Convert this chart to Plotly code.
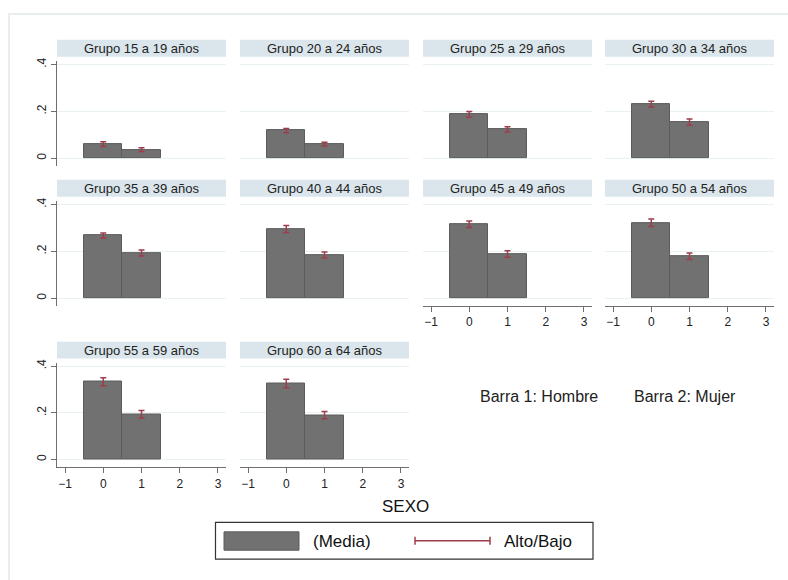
import plotly.graph_objects as go

# Grupos de edad (un panel por grupo)
grupos = ["Grupo 15 a 19 años", "Grupo 20 a 24 años", "Grupo 25 a 29 años", "Grupo 30 a 34 años",
          "Grupo 35 a 39 años", "Grupo 40 a 44 años", "Grupo 45 a 49 años", "Grupo 50 a 54 años",
          "Grupo 55 a 59 años", "Grupo 60 a 64 años"]

# SEXO: 0 = Hombre, 1 = Mujer
sexo = [0, 1]

# Media por grupo y sexo
media_hombre = [0.060, 0.118, 0.187, 0.231, 0.268, 0.296, 0.316, 0.323, 0.333, 0.325]
media_mujer = [0.036, 0.060, 0.123, 0.154, 0.193, 0.185, 0.189, 0.179, 0.194, 0.190]

# Límites Alto/Bajo
alto_hombre = [0.070, 0.127, 0.199, 0.243, 0.279, 0.311, 0.330, 0.339, 0.350, 0.343]
bajo_hombre = [0.050, 0.109, 0.175, 0.219, 0.257, 0.281, 0.302, 0.307, 0.316, 0.307]
alto_mujer = [0.044, 0.068, 0.134, 0.167, 0.206, 0.198, 0.203, 0.193, 0.210, 0.206]
bajo_mujer = [0.028, 0.052, 0.112, 0.141, 0.180, 0.172, 0.175, 0.165, 0.178, 0.174]

y_ticks = [0, 0.2, 0.4]
y_tick_labels = ["0", ".2", ".4"]
x_ticks = [-1, 0, 1, 2, 3]

W, H = 788, 580
FONT = "Liberation Sans, Arial, sans-serif"
BAR = "#717171"
BAR_LINE = "#5c5c5c"
ERR = "#9e3d4c"
GRID = "#e9f1f2"
AXIS = "#6e6e6e"
STRIP = "#dae6eb"


def fx(px):
    return px / W


def fy(py):
    return 1 - py / H


col_px = [(57, 226), (240, 409), (423, 592), (605, 774)]
row_px = [(57.5, 163), (198.5, 304), (361, 466.5)]
strip_px = [(36, 53), (177, 194), (340, 357)]
# panel que lleva el eje x en cada columna
x_axis_panel = {0: 8, 1: 9, 2: 6, 3: 7}

fig = go.Figure()
layout = dict(
    width=W, height=H,
    margin=dict(l=0, r=0, t=0, b=0),
    paper_bgcolor="white", plot_bgcolor="white",
    showlegend=False,
    font=dict(family=FONT, color="#222"),
)
shapes = []
annotations = []

for i, g in enumerate(grupos):
    r, c = divmod(i, 4)
    n = i + 1
    xa = "x" if n == 1 else f"x{n}"
    ya = "y" if n == 1 else f"y{n}"
    ykey = "yaxis" if n == 1 else f"yaxis{n}"
    xkey = "xaxis" if n == 1 else f"xaxis{n}"

    medias = [media_hombre[i], media_mujer[i]]
    altos = [alto_hombre[i], alto_mujer[i]]
    bajos = [bajo_hombre[i], bajo_mujer[i]]

    fig.add_trace(go.Bar(
        x=sexo, y=medias, width=[1, 1],
        marker=dict(color=BAR, line=dict(color=BAR_LINE, width=1)),
        error_y=dict(type="data", symmetric=False,
                     array=[a - m for a, m in zip(altos, medias)],
                     arrayminus=[m - b for m, b in zip(medias, bajos)],
                     color=ERR, thickness=1.5, width=3),
        xaxis=xa, yaxis=ya, hoverinfo="skip",
    ))

    x0, x1 = col_px[c]
    ytop, ybot = row_px[r]
    show_x = x_axis_panel[c] == i
    show_y = c == 0

    layout[xkey] = dict(
        domain=[fx(x0), fx(x1)], anchor=ya, range=[-1.21, 3.21],
        showgrid=False, zeroline=False,
        showline=show_x, linecolor=AXIS, linewidth=1,
        ticks="outside" if show_x else "", ticklen=5, tickcolor=AXIS,
        tickvals=x_ticks, showticklabels=show_x,
        tickfont=dict(size=12, color="#222"), fixedrange=True,
    )
    layout[ykey] = dict(
        domain=[fy(ybot), fy(ytop)], anchor=xa, range=[-0.033, 0.415],
        showgrid=True, gridcolor=GRID, gridwidth=1, zeroline=False,
        showline=show_y, linecolor=AXIS, linewidth=1,
        ticks="outside" if show_y else "", ticklen=5, tickcolor=AXIS,
        tickvals=y_ticks, ticktext=y_tick_labels, showticklabels=show_y,
        tickangle=-90, tickfont=dict(size=12, color="#222"), fixedrange=True,
    )

    s0, s1 = strip_px[r]
    shapes.append(dict(type="rect", xref="paper", yref="paper",
                       x0=fx(x0), x1=fx(x1), y0=fy(s1), y1=fy(s0),
                       fillcolor=STRIP, line=dict(width=0), layer="below"))
    annotations.append(dict(text=g, xref="paper", yref="paper",
                            x=fx((x0 + x1) / 2), y=fy((s0 + s1) / 2),
                            xanchor="center", yanchor="middle", showarrow=False,
                            font=dict(size=13, color="#222")))

# marco exterior tenue
shapes.append(dict(type="rect", xref="paper", yref="paper",
                   x0=fx(9), x1=1.2, y0=-0.2, y1=fy(10),
                   line=dict(color="#e8eeee", width=2), layer="below"))

# título del eje x
annotations.append(dict(text="SEXO", xref="paper", yref="paper",
                        x=fx(405), y=fy(506), xanchor="center", yanchor="middle",
                        showarrow=False, font=dict(size=17, color="#111")))

# notas
annotations.append(dict(text="Barra 1: Hombre", xref="paper", yref="paper",
                        x=fx(478), y=fy(395), xanchor="left", yanchor="middle",
                        showarrow=False, font=dict(size=16, color="#222")))
annotations.append(dict(text="Barra 2: Mujer", xref="paper", yref="paper",
                        x=fx(632), y=fy(395), xanchor="left", yanchor="middle",
                        showarrow=False, font=dict(size=16, color="#222")))

# leyenda
shapes.append(dict(type="rect", xref="paper", yref="paper",
                   x0=fx(215.5), x1=fx(593), y0=fy(559), y1=fy(522),
                   line=dict(color="#333", width=1.2), fillcolor="white"))
shapes.append(dict(type="rect", xref="paper", yref="paper",
                   x0=fx(224), x1=fx(299), y0=fy(550), y1=fy(531.5),
                   line=dict(color=BAR_LINE, width=1), fillcolor=BAR))
annotations.append(dict(text="(Media)", xref="paper", yref="paper",
                        x=fx(311), y=fy(541), xanchor="left", yanchor="middle",
                        showarrow=False, font=dict(size=17, color="#111")))
shapes.append(dict(type="line", xref="paper", yref="paper",
                   x0=fx(415), x1=fx(490), y0=fy(540.5), y1=fy(540.5),
                   line=dict(color=ERR, width=1.5)))
for xc in (415, 490):
    shapes.append(dict(type="line", xref="paper", yref="paper",
                       x0=fx(xc), x1=fx(xc), y0=fy(536.5), y1=fy(544.5),
                       line=dict(color=ERR, width=1.5)))
annotations.append(dict(text="Alto/Bajo", xref="paper", yref="paper",
                        x=fx(502), y=fy(541), xanchor="left", yanchor="middle",
                        showarrow=False, font=dict(size=17, color="#111")))

layout["shapes"] = shapes
layout["annotations"] = annotations
layout["bargap"] = 0
fig.update_layout(**layout)

fig.write_html("out.html")
